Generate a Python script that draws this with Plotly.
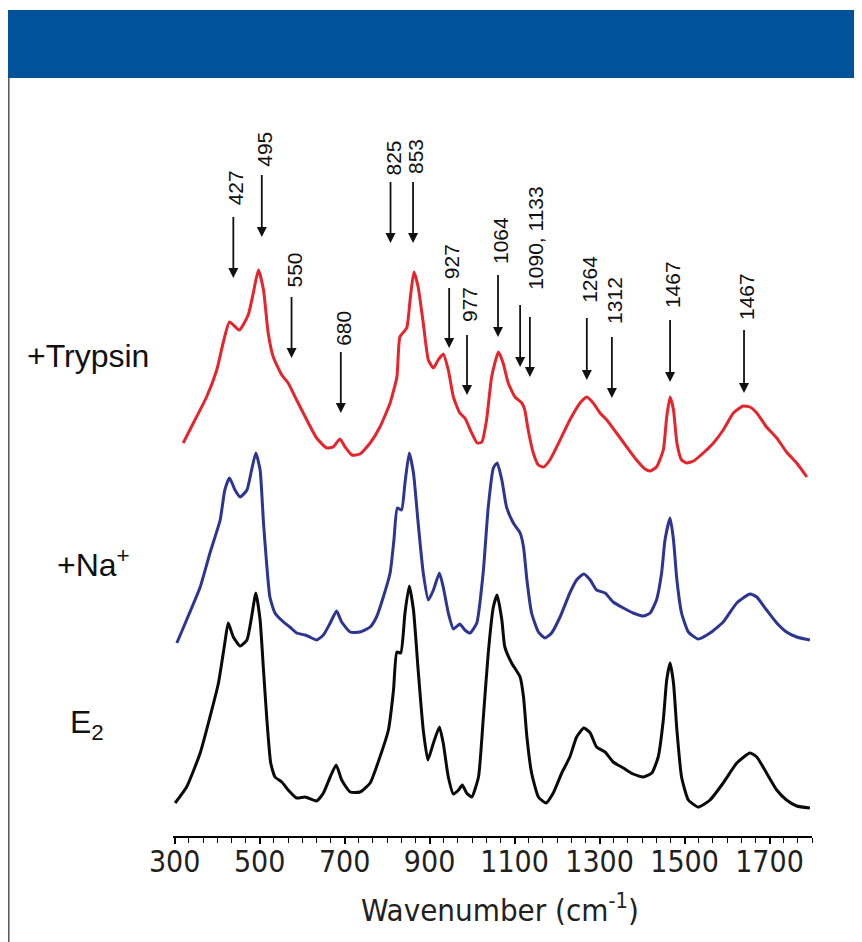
import plotly.graph_objects as go

# ---------------- data ----------------
# Raman spectra, wavenumber (cm-1) vs stacked intensity (a.u.)
black_x = [301, 328, 360, 383, 403, 418, 426, 438, 454, 470,
           481, 491, 501, 509, 517, 526, 536, 552, 567, 587,
           607, 634, 650, 666, 680, 693, 713, 736, 760, 783,
           803, 815, 823, 832, 842, 852, 862, 873, 885, 896,
           909, 923, 932, 944, 956, 968, 977, 987, 999, 1015,
           1026, 1038, 1050, 1059, 1070, 1077, 1093, 1113, 1121, 1129,
           1140, 1156, 1174, 1191, 1211, 1230, 1246, 1263, 1278, 1293,
           1313, 1332, 1356, 1379, 1403, 1423, 1438, 1450, 1458, 1466,
           1474, 1482, 1493, 1509, 1532, 1560, 1591, 1623, 1654, 1670,
           1693, 1717, 1740, 1764, 1795]
black_y = [33, 49, 83, 119, 153, 193, 213, 199, 190, 196,
           219, 243, 216, 166, 116, 73, 59, 54, 46, 38,
           39, 35, 43, 59, 71, 56, 44, 44, 53, 79,
           106, 146, 184, 183, 223, 250, 226, 166, 106, 76,
           93, 109, 93, 59, 42, 46, 51, 43, 39, 59,
           116, 183, 229, 241, 216, 189, 173, 159, 139, 99,
           63, 39, 33, 43, 63, 79, 99, 108, 103, 89,
           84, 74, 68, 62, 59, 63, 79, 116, 156, 173,
           153, 106, 59, 36, 29, 36, 53, 73, 83, 79,
           63, 46, 36, 30, 28]

blue_x = [305, 328, 360, 383, 407, 418, 429, 442, 454, 470,
          481, 491, 501, 509, 517, 524, 536, 556, 571, 587,
          607, 618, 634, 650, 666, 681, 693, 713, 736, 760,
          775, 791, 807, 816, 824, 834, 842, 852, 862, 873,
          885, 897, 909, 923, 932, 944, 956, 971, 983, 995,
          1011, 1026, 1038, 1050, 1059, 1070, 1081, 1097, 1113, 1121,
          1129, 1140, 1156, 1172, 1187, 1207, 1230, 1246, 1263, 1278,
          1293, 1313, 1332, 1356, 1379, 1403, 1419, 1434, 1446, 1454,
          1466, 1474, 1482, 1493, 1509, 1532, 1560, 1591, 1623, 1654,
          1670, 1693, 1717, 1740, 1764, 1795]
blue_y = [193, 216, 249, 283, 316, 346, 358, 346, 339, 346,
          366, 383, 366, 313, 269, 239, 223, 214, 209, 203,
          201, 199, 196, 201, 213, 225, 214, 204, 204, 209,
          219, 239, 263, 296, 328, 326, 353, 383, 363, 313,
          263, 236, 246, 263, 249, 223, 207, 212, 206, 203,
          213, 263, 329, 368, 373, 356, 329, 313, 303, 289,
          256, 223, 204, 198, 203, 219, 243, 256, 262, 256,
          246, 243, 234, 228, 223, 220, 223, 236, 263, 296,
          318, 296, 256, 223, 204, 197, 203, 214, 233, 242,
          239, 226, 213, 204, 199, 196]

red_x = [320, 344, 375, 399, 414, 429, 452, 473, 485, 497,
         509, 520, 532, 552, 567, 587, 611, 634, 658, 673,
         689, 701, 717, 736, 760, 783, 807, 823, 830, 846,
         854, 863, 873, 885, 897, 909, 920, 932, 944, 956,
         971, 983, 999, 1012, 1023, 1034, 1046, 1062, 1073, 1085,
         1101, 1117, 1124, 1132, 1144, 1156, 1168, 1183, 1207, 1230,
         1254, 1270, 1285, 1301, 1317, 1340, 1364, 1387, 1407, 1419,
         1434, 1450, 1458, 1466, 1474, 1482, 1493, 1505, 1521, 1544,
         1568, 1591, 1615, 1638, 1654, 1670, 1693, 1717, 1740, 1764,
         1788]
red_y = [393, 413, 439, 466, 493, 514, 506, 521, 543, 566,
         546, 503, 479, 461, 453, 436, 416, 398, 388, 389,
         397, 389, 381, 382, 393, 409, 433, 459, 499, 508,
         536, 564, 549, 513, 476, 468, 476, 482, 466, 439,
         423, 418, 403, 393, 394, 416, 459, 484, 473, 453,
         439, 433, 426, 406, 383, 371, 369, 376, 396, 416,
         433, 439, 433, 423, 416, 403, 389, 376, 367, 365,
         369, 386, 419, 439, 426, 393, 376, 373, 375, 383,
         393, 406, 423, 430, 429, 423, 409, 398, 384, 373,
         359]

series_names = ["E<sub>2</sub>", "+Na<sup>+</sup>", "+Trypsin"]
x_tick_values = [300, 500, 700, 900, 1100, 1300, 1500, 1700]
x_tick_labels = ["300", "500", "700", "900", "1100", "1300", "1500", "1700"]
x_title = "Wavenumber (cm<sup>-1</sup>)"

# band assignments marked with arrows
peak_labels = ["427", "495", "550", "680", "825", "853", "927", "977",
               "1064", "1090, 1133", "1264", "1312", "1467", "1467"]
arrow_x = [438, 505, 575, 691, 808, 861, 946, 988, 1061, 1113, 1136,
           1270, 1329, 1466, 1640]
arrow_tip = [558, 599, 478, 423, 593, 593, 488, 441, 499, 469, 459,
             456, 438, 454, 443]
arrow_top = [619, 661, 539, 484, 654, 654, 548, 501, 561, 531, 519,
             518, 499, 516, 506]
label_x = [438, 505, 575, 691, 808, 861, 946, 988, 1061, 1143,
           1270, 1329, 1466, 1640]
label_y = [648, 687, 566, 508, 678, 679, 574, 531, 595, 598,
           557, 536, 551, 539]

# ---------------- layout helpers ----------------
W, H = 862, 942
OFF = 8                       # page body margin of the browser
ML, MR, MT, MB = 165, 58, 72, 114
PW, PH = W - ML - MR, H - MT - MB


def paper_x(page_px):
    return (page_px - OFF - ML) / PW


def paper_y(page_py):
    return (H - MB - (page_py - OFF)) / PH


COND = "DejaVu Sans Condensed, Liberation Sans Narrow, sans-serif"
ARIAL = "Liberation Sans, Arial, Helvetica, sans-serif"
INK = "#111111"

fig = go.Figure()
for xs, ys, col in [(black_x, black_y, "#0a0a0a"),
                    (blue_x, blue_y, "#2c3592"),
                    (red_x, red_y, "#e6242b")]:
    fig.add_trace(go.Scatter(x=xs, y=ys, mode="lines",
                             line=dict(color=col, width=3.0, shape="spline", smoothing=0.5),
                             hoverinfo="skip", showlegend=False))

# arrows: shafts + heads
shaft_x, shaft_y = [], []
for ax_, tip, top in zip(arrow_x, arrow_tip, arrow_top):
    shaft_x += [ax_, ax_, None]
    shaft_y += [top, tip + 4, None]
fig.add_trace(go.Scatter(x=shaft_x, y=shaft_y, mode="lines",
                         line=dict(color=INK, width=1.8),
                         hoverinfo="skip", showlegend=False))
fig.add_trace(go.Scatter(x=arrow_x, y=arrow_tip, mode="markers",
                         marker=dict(symbol="arrow-down", size=10, color=INK,
                                     line=dict(width=0)),
                         hoverinfo="skip", showlegend=False))

annotations = []
# rotated labels
for txt, lx, ly in zip(peak_labels, label_x, label_y):
    annotations.append(dict(x=lx, y=ly, xref="x", yref="y", text=txt, showarrow=False,
                            textangle=-90, xanchor="center", yanchor="middle", xshift=2,
                            font=dict(family=ARIAL, size=21, color=INK)))
# series labels
for name, lpx, cpy in zip(series_names, [68, 55, 25], [724, 563, 356]):
    annotations.append(dict(x=paper_x(lpx), y=paper_y(cpy), xref="paper", yref="paper",
                            text=name, showarrow=False, xanchor="left", yanchor="middle",
                            font=dict(family=ARIAL, size=32, color=INK)))
# axis title
annotations.append(dict(x=paper_x(500), y=paper_y(908), xref="paper", yref="paper",
                        text=x_title, showarrow=False, xanchor="center", yanchor="middle",
                        font=dict(family=COND, size=31, color="#231f20")))

shapes = [
    dict(type="rect", xref="paper", yref="paper",
         x0=paper_x(OFF), x1=paper_x(W + OFF), y0=paper_y(78), y1=paper_y(10),
         fillcolor="#00529b", line=dict(width=0)),
    dict(type="line", xref="paper", yref="paper",
         x0=paper_x(OFF + 0.8), x1=paper_x(OFF + 0.8), y0=paper_y(78), y1=paper_y(H + OFF),
         line=dict(color="#555555", width=1.5)),
]

fig.update_layout(
    width=W, height=H,
    margin=dict(l=ML, r=MR, t=MT, b=MB, pad=0),
    paper_bgcolor="white", plot_bgcolor="white",
    showlegend=False,
    annotations=annotations, shapes=shapes,
    xaxis=dict(range=[296, 1800], showline=True, linecolor="black", linewidth=2,
               ticks="outside", ticklen=6, tickwidth=1.5, tickcolor="black",
               tickmode="array", tickvals=x_tick_values, ticktext=x_tick_labels,
               ticklabelstandoff=-8,
               minor=dict(ticks="outside", ticklen=5, tickwidth=1.3, tickcolor="black",
                          tick0=300, dtick=100 / 3),
               showgrid=False, zeroline=False,
               tickfont=dict(family=COND, size=30, color="#231f20")),
    yaxis=dict(range=[0, 756], visible=False, showgrid=False, zeroline=False),
)

fig.write_html("out.html")
